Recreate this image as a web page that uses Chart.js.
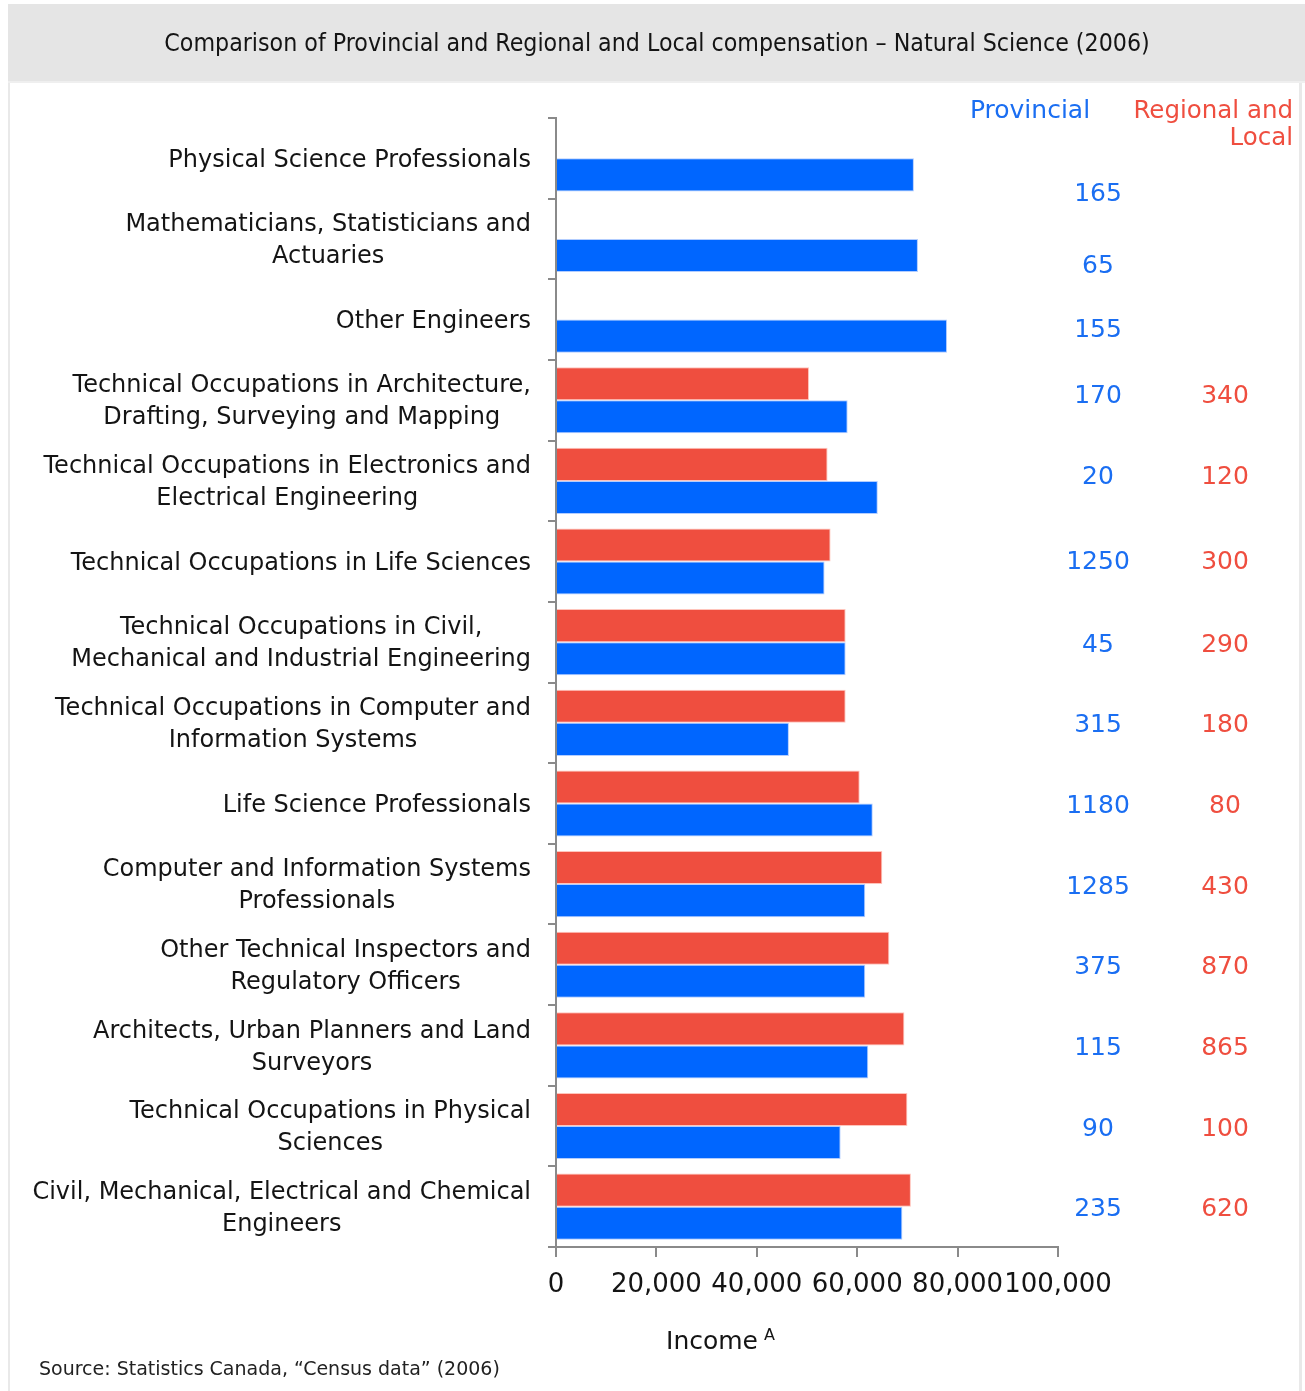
<!DOCTYPE html>
<html>
<head>
<meta charset="utf-8">
<script src="https://cdn.jsdelivr.net/npm/chart.js@4/dist/chart.umd.min.js"></script>
<style>
  html, body { margin: 0; padding: 0; background: #ffffff; }
  canvas { display: block; }
</style>
</head>
<body>
<canvas id="chart" width="1305" height="1391"></canvas>
<script>
// Occupation groups (each entry is a list of label lines)
const categories = [
  ['Physical Science Professionals'],
  ['Mathematicians, Statisticians and', 'Actuaries'],
  ['Other Engineers'],
  ['Technical Occupations in Architecture,', 'Drafting, Surveying and Mapping'],
  ['Technical Occupations in Electronics and', 'Electrical Engineering'],
  ['Technical Occupations in Life Sciences'],
  ['Technical Occupations in Civil,', 'Mechanical and Industrial Engineering'],
  ['Technical Occupations in Computer and', 'Information Systems'],
  ['Life Science Professionals'],
  ['Computer and Information Systems', 'Professionals'],
  ['Other Technical Inspectors and', 'Regulatory Officers'],
  ['Architects, Urban Planners and Land', 'Surveyors'],
  ['Technical Occupations in Physical', 'Sciences'],
  ['Civil, Mechanical, Electrical and Chemical', 'Engineers']
];

// Average income by level of government
const provincialIncome = [71300, 72100, 77900, 58100, 64100, 53500, 57700, 46400, 63100, 61600, 61600, 62200, 56700, 69000];
const regionalIncome   = [null, null, null, 50400, 54100, 54700, 57700, 57700, 60500, 65000, 66400, 69400, 70000, 70700];

// Number of employees in each group
const provincialCount = [165, 65, 155, 170, 20, 1250, 45, 315, 1180, 1285, 375, 115, 90, 235];
const regionalCount   = [null, null, null, 340, 120, 300, 290, 180, 80, 430, 870, 865, 100, 620];

// Income axis ticks
const incomeTicks = [0, 20000, 40000, 60000, 80000, 100000];

const BLUE = '#0066ff';
const RED = '#ef4e3f';
const BLUE_TEXT = '#1a6ef2';
const RED_TEXT = '#ef4e3f';
const INK = '#141414';
const AXIS = '#8a8a8a';
const FONT = '"DejaVu Sans", "Open Sans", sans-serif';

// vertical nudges for the count column in the upper rows
const countNudge = [33, 25, 8, -7, -6, -2, 0, 0, 0, 0, 0, 0, 0, 0];

const decorations = {
  id: 'decorations',
  beforeDraw(chart) {
    const ctx = chart.ctx;
    ctx.save();
    ctx.fillStyle = '#ffffff';
    ctx.fillRect(0, 0, chart.width, chart.height);
    // frame
    ctx.fillStyle = '#e9e9e9';
    ctx.fillRect(8, 4, 2, chart.height - 4);
    ctx.fillRect(1299, 82, 3, chart.height - 82);
    // header band
    ctx.fillStyle = '#e5e5e5';
    ctx.fillRect(8, 4, chart.width - 8, 78);
    ctx.fillStyle = '#efefef';
    ctx.fillRect(8, 81, chart.width - 8, 2);
    // title
    ctx.fillStyle = INK;
    ctx.font = '24.7px "DejaVu Sans Condensed", "DejaVu Sans", sans-serif';
    ctx.textAlign = 'center';
    ctx.textBaseline = 'middle';
    ctx.fillText('Comparison of Provincial and Regional and Local compensation \u2013 Natural Science (2006)', 657, 45);
    ctx.restore();
  },
  afterDraw(chart) {
    const ctx = chart.ctx;
    const y = chart.scales.y;
    ctx.save();
    ctx.textBaseline = 'middle';

    // category labels: lines centred on each other, block right-aligned to the axis
    ctx.font = '24px ' + FONT;
    ctx.fillStyle = INK;
    ctx.textAlign = 'center';
    const rightEdge = y.right - 25;
    const lineH = 32;
    categories.forEach((lines, i) => {
      const cy = y.getPixelForTick(i) + 2;
      const w = Math.max(...lines.map(l => ctx.measureText(l).width));
      const cx = rightEdge - w / 2;
      const top = cy - (lines.length - 1) * lineH / 2;
      lines.forEach((l, k) => ctx.fillText(l, cx, top + k * lineH));
    });

    // column headers
    ctx.font = '25px ' + FONT;
    ctx.fillStyle = BLUE_TEXT;
    ctx.textAlign = 'center';
    ctx.fillText('Provincial', 1030, 111);
    ctx.font = '24.5px ' + FONT;
    ctx.fillStyle = RED_TEXT;
    ctx.textAlign = 'right';
    ctx.fillText('Regional and', 1293, 112);
    ctx.fillText('Local', 1293, 139);

    // counts
    ctx.font = '25px ' + FONT;
    ctx.textAlign = 'center';
    categories.forEach((_, i) => {
      const cy = y.getPixelForTick(i) + countNudge[i] + 3;
      if (provincialCount[i] != null) {
        ctx.fillStyle = BLUE_TEXT;
        ctx.fillText(String(provincialCount[i]), 1098, cy);
      }
      if (regionalCount[i] != null) {
        ctx.fillStyle = RED_TEXT;
        ctx.fillText(String(regionalCount[i]), 1225, cy);
      }
    });

    // income axis title with superscript
    ctx.fillStyle = INK;
    ctx.font = '25px ' + FONT;
    ctx.textAlign = 'right';
    const tx = 758;
    ctx.fillText('Income', tx, 1342);
    ctx.font = '16px ' + FONT;
    ctx.textAlign = 'left';
    ctx.fillText('A', tx + 6, 1336);

    // source note
    ctx.font = '19px ' + FONT;
    ctx.fillStyle = '#222222';
    ctx.textAlign = 'left';
    ctx.fillText('Source: Statistics Canada, \u201cCensus data\u201d (2006)', 39, 1370);
    ctx.restore();
  }
};

new Chart(document.getElementById('chart'), {
  type: 'bar',
  data: {
    labels: categories,
    datasets: [
      {
        label: 'Regional and Local',
        data: regionalIncome,
        backgroundColor: RED,
        borderColor: 'rgba(255,190,180,0.9)',
        borderWidth: 1,
        categoryPercentage: 0.82,
        barPercentage: 1.0
      },
      {
        label: 'Provincial',
        data: provincialIncome,
        backgroundColor: BLUE,
        borderColor: 'rgba(170,200,255,0.9)',
        borderWidth: 1,
        categoryPercentage: 0.82,
        barPercentage: 1.0
      }
    ]
  },
  options: {
    indexAxis: 'y',
    responsive: false,
    animation: false,
    devicePixelRatio: 1,
    layout: { padding: { top: 118, right: 247, left: 0, bottom: 0 } },
    plugins: {
      legend: { display: false },
      tooltip: { enabled: false },
      title: { display: false }
    },
    scales: {
      x: {
        min: 0,
        max: 100000,
        afterBuildTicks(scale) { scale.ticks = incomeTicks.map(v => ({ value: v })); },
        afterFit(scale) { scale.height = 144; },
        ticks: {
          color: INK,
          font: { family: FONT, size: 26 },
          padding: 13,
          maxRotation: 0,
          autoSkip: false,
          callback: v => v.toLocaleString('en-US')
        },
        grid: { drawOnChartArea: false, color: AXIS, lineWidth: 2, tickLength: 10 },
        border: { color: AXIS, width: 2 }
      },
      y: {
        afterFit(scale) { scale.width = 556; },
        ticks: { autoSkip: false, callback: () => '' },
        grid: { drawOnChartArea: false, offset: true, color: AXIS, lineWidth: 2, tickLength: 8 },
        border: { color: AXIS, width: 2 }
      }
    }
  },
  plugins: [decorations]
});
</script>
</body>
</html>
